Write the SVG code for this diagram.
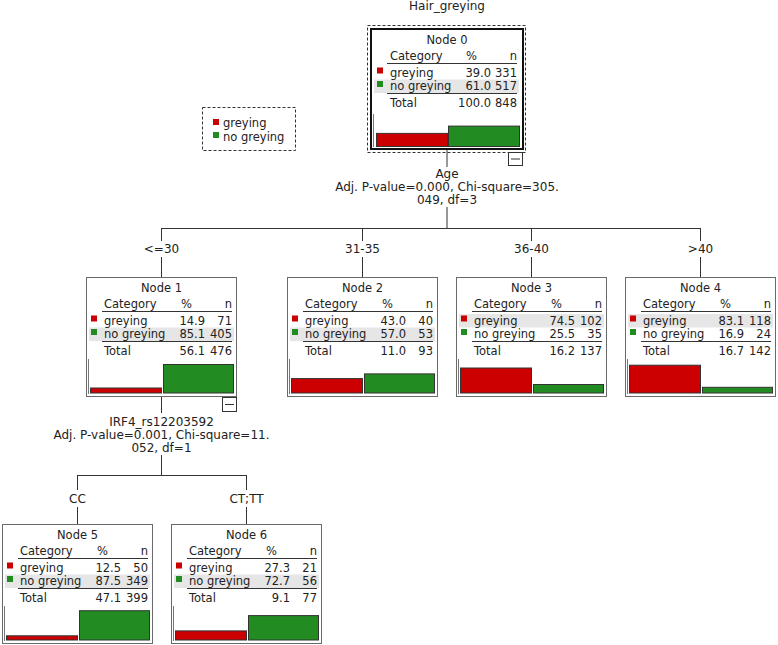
<svg xmlns="http://www.w3.org/2000/svg" width="778" height="645" viewBox="0 0 778 645">
<style>
text{font-family:"DejaVu Sans","Liberation Sans",sans-serif;font-size:11.5px;fill:#222}
.lb{font-size:12px}
.m{text-anchor:middle}
.e{text-anchor:end}
.box{fill:#fff;stroke:#6a6a6a;stroke-width:1}
.box0{fill:#fff;stroke:#111;stroke-width:2}
.dash{fill:none;stroke:#333;stroke-width:1;stroke-dasharray:3,2}
.hl{stroke:#333;stroke-width:1.2}
.band{fill:#e6e6e6}
.ax{stroke:#777;stroke-width:1}
.r{fill:#cc0000}
.g{fill:#228b22}
.bar{stroke:#333;stroke-width:1}
.con{stroke:#333;stroke-width:1;fill:none}
.mb{fill:#fff;stroke:#333;stroke-width:1}
</style>

<text class="m lb" x="447" y="10">Hair_greying</text>

<g id="legend">
<rect class="dash" x="202.5" y="107.5" width="93" height="43"/>
<rect class="r" x="213" y="119" width="6" height="6"/>
<text x="223" y="127">greying</text>
<rect class="g" x="213" y="132" width="6" height="6"/>
<text x="223" y="141">no greying</text>
</g>

<g id="connectors">
<line class="con" x1="447" y1="150" x2="447" y2="167"/>
<line class="con" x1="447" y1="207" x2="447" y2="228.5"/>
<line class="con" x1="161.5" y1="228.5" x2="700.5" y2="228.5"/>
<line class="con" x1="161.5" y1="228" x2="161.5" y2="241"/>
<line class="con" x1="161.5" y1="257" x2="161.5" y2="277"/>
<line class="con" x1="362.5" y1="228" x2="362.5" y2="241"/>
<line class="con" x1="362.5" y1="257" x2="362.5" y2="277"/>
<line class="con" x1="531.5" y1="228" x2="531.5" y2="241"/>
<line class="con" x1="531.5" y1="257" x2="531.5" y2="277"/>
<line class="con" x1="700.5" y1="228" x2="700.5" y2="241"/>
<line class="con" x1="700.5" y1="257" x2="700.5" y2="277"/>
<line class="con" x1="161.5" y1="397" x2="161.5" y2="413"/>
<line class="con" x1="161.5" y1="455" x2="161.5" y2="475.5"/>
<line class="con" x1="77.5" y1="475.5" x2="246.5" y2="475.5"/>
<line class="con" x1="77.5" y1="475" x2="77.5" y2="490"/>
<line class="con" x1="77.5" y1="507" x2="77.5" y2="524"/>
<line class="con" x1="246.5" y1="475" x2="246.5" y2="490"/>
<line class="con" x1="246.5" y1="507" x2="246.5" y2="524"/>
<text class="m lb" x="447" y="178">Age</text>
<text class="m lb" x="447" y="191">Adj. P-value=0.000, Chi-square=305.</text>
<text class="m lb" x="447" y="204">049, df=3</text>
<text class="m lb" x="161.5" y="253">&lt;=30</text>
<text class="m lb" x="362.5" y="253">31-35</text>
<text class="m lb" x="531.5" y="253">36-40</text>
<text class="m lb" x="700.5" y="253">&gt;40</text>
<text class="m lb" x="161.5" y="426">IRF4_rs12203592</text>
<text class="m lb" x="161.5" y="439">Adj. P-value=0.001, Chi-square=11.</text>
<text class="m lb" x="161.5" y="452">052, df=1</text>
<text class="m lb" x="77.5" y="503">CC</text>
<text class="m lb" x="246.5" y="503">CT;TT</text>
</g>

<g id="node0" transform="translate(371,29)">
<rect class="dash" x="-3.5" y="-3.5" width="158" height="127"/>
<rect class="box0" x="0" y="0" width="152" height="120"/>
<text class="m" x="76" y="14.5">Node 0</text>
<text x="19" y="31">Category</text>
<text class="e" x="106" y="31">%</text>
<text class="e" x="146" y="31">n</text>
<line class="hl" x1="16" y1="34.5" x2="146" y2="34.5"/>
<rect class="band" x="3" y="50.5" width="145" height="13.5"/>
<rect class="r" x="6" y="38.5" width="6" height="6"/>
<text x="19" y="47.5">greying</text>
<text class="e" x="120" y="47.5">39.0</text>
<text class="e" x="146" y="47.5">331</text>
<rect class="g" x="6" y="52" width="6" height="6"/>
<text x="19" y="61">no greying</text>
<text class="e" x="120" y="61">61.0</text>
<text class="e" x="146" y="61">517</text>
<line class="hl" x1="16" y1="64.5" x2="146" y2="64.5"/>
<text x="19" y="77.5">Total</text>
<text class="e" x="120" y="77.5">100.0</text>
<text class="e" x="146" y="77.5">848</text>
<line class="ax" x1="2.5" y1="85" x2="2.5" y2="118"/>
<rect class="r bar" x="5.5" y="104.4" width="71" height="13.1"/>
<rect class="g bar" x="77.5" y="97.1" width="71" height="20.4"/>
<rect class="mb" x="137.5" y="123.5" width="14" height="13"/>
<line class="con" x1="140" y1="130" x2="149" y2="130"/>
</g>

<g id="node1" transform="translate(86,277)">
<rect class="box" x="0.5" y="0.5" width="150" height="119"/>
<text class="m" x="75.5" y="14.5">Node 1</text>
<text x="18" y="31">Category</text>
<text class="e" x="106" y="31">%</text>
<text class="e" x="146" y="31">n</text>
<line class="hl" x1="16" y1="34.5" x2="146" y2="34.5"/>
<rect class="band" x="3" y="50.5" width="145" height="13.5"/>
<rect class="r" x="5" y="38.5" width="6" height="6"/>
<text x="18" y="47.5">greying</text>
<text class="e" x="119" y="47.5">14.9</text>
<text class="e" x="146" y="47.5">71</text>
<rect class="g" x="5" y="52" width="6" height="6"/>
<text x="18" y="61">no greying</text>
<text class="e" x="119" y="61">85.1</text>
<text class="e" x="146" y="61">405</text>
<line class="hl" x1="16" y1="64.5" x2="146" y2="64.5"/>
<text x="18" y="77.5">Total</text>
<text class="e" x="119" y="77.5">56.1</text>
<text class="e" x="146" y="77.5">476</text>
<line class="ax" x1="2.5" y1="82" x2="2.5" y2="117"/>
<rect class="r bar" x="4.5" y="111" width="71" height="5"/>
<rect class="g bar" x="77.5" y="87.5" width="70" height="28.5"/>
<rect class="mb" x="136.5" y="120.5" width="14" height="14"/>
<line class="con" x1="139" y1="127.5" x2="148" y2="127.5"/>
</g>

<g id="node2" transform="translate(287,277)">
<rect class="box" x="0.5" y="0.5" width="150" height="119"/>
<text class="m" x="75.5" y="14.5">Node 2</text>
<text x="18" y="31">Category</text>
<text class="e" x="106" y="31">%</text>
<text class="e" x="146" y="31">n</text>
<line class="hl" x1="16" y1="34.5" x2="146" y2="34.5"/>
<rect class="band" x="3" y="50.5" width="145" height="13.5"/>
<rect class="r" x="5" y="38.5" width="6" height="6"/>
<text x="18" y="47.5">greying</text>
<text class="e" x="119" y="47.5">43.0</text>
<text class="e" x="146" y="47.5">40</text>
<rect class="g" x="5" y="52" width="6" height="6"/>
<text x="18" y="61">no greying</text>
<text class="e" x="119" y="61">57.0</text>
<text class="e" x="146" y="61">53</text>
<line class="hl" x1="16" y1="64.5" x2="146" y2="64.5"/>
<text x="18" y="77.5">Total</text>
<text class="e" x="119" y="77.5">11.0</text>
<text class="e" x="146" y="77.5">93</text>
<line class="ax" x1="2.5" y1="82" x2="2.5" y2="117"/>
<rect class="r bar" x="4.5" y="101.6" width="71" height="14.4"/>
<rect class="g bar" x="77.5" y="96.9" width="70" height="19.1"/>
</g>

<g id="node3" transform="translate(456,277)">
<rect class="box" x="0.5" y="0.5" width="150" height="119"/>
<text class="m" x="75.5" y="14.5">Node 3</text>
<text x="18" y="31">Category</text>
<text class="e" x="106" y="31">%</text>
<text class="e" x="146" y="31">n</text>
<line class="hl" x1="16" y1="34.5" x2="146" y2="34.5"/>
<rect class="band" x="3" y="37" width="145" height="13.5"/>
<rect class="r" x="5" y="38.5" width="6" height="6"/>
<text x="18" y="47.5">greying</text>
<text class="e" x="119" y="47.5">74.5</text>
<text class="e" x="146" y="47.5">102</text>
<rect class="g" x="5" y="52" width="6" height="6"/>
<text x="18" y="61">no greying</text>
<text class="e" x="119" y="61">25.5</text>
<text class="e" x="146" y="61">35</text>
<line class="hl" x1="16" y1="64.5" x2="146" y2="64.5"/>
<text x="18" y="77.5">Total</text>
<text class="e" x="119" y="77.5">16.2</text>
<text class="e" x="146" y="77.5">137</text>
<line class="ax" x1="2.5" y1="82" x2="2.5" y2="117"/>
<rect class="r bar" x="4.5" y="91" width="71" height="25"/>
<rect class="g bar" x="77.5" y="107.5" width="70" height="8.5"/>
</g>

<g id="node4" transform="translate(625,277)">
<rect class="box" x="0.5" y="0.5" width="150" height="119"/>
<text class="m" x="75.5" y="14.5">Node 4</text>
<text x="18" y="31">Category</text>
<text class="e" x="106" y="31">%</text>
<text class="e" x="146" y="31">n</text>
<line class="hl" x1="16" y1="34.5" x2="146" y2="34.5"/>
<rect class="band" x="3" y="37" width="145" height="13.5"/>
<rect class="r" x="5" y="38.5" width="6" height="6"/>
<text x="18" y="47.5">greying</text>
<text class="e" x="119" y="47.5">83.1</text>
<text class="e" x="146" y="47.5">118</text>
<rect class="g" x="5" y="52" width="6" height="6"/>
<text x="18" y="61">no greying</text>
<text class="e" x="119" y="61">16.9</text>
<text class="e" x="146" y="61">24</text>
<line class="hl" x1="16" y1="64.5" x2="146" y2="64.5"/>
<text x="18" y="77.5">Total</text>
<text class="e" x="119" y="77.5">16.7</text>
<text class="e" x="146" y="77.5">142</text>
<line class="ax" x1="2.5" y1="82" x2="2.5" y2="117"/>
<rect class="r bar" x="4.5" y="88.2" width="71" height="27.8"/>
<rect class="g bar" x="77.5" y="110.3" width="70" height="5.7"/>
</g>

<g id="node5" transform="translate(2,524)">
<rect class="box" x="0.5" y="0.5" width="150" height="119"/>
<text class="m" x="75.5" y="14.5">Node 5</text>
<text x="18" y="31">Category</text>
<text class="e" x="106" y="31">%</text>
<text class="e" x="146" y="31">n</text>
<line class="hl" x1="16" y1="34.5" x2="146" y2="34.5"/>
<rect class="band" x="3" y="50.5" width="145" height="13.5"/>
<rect class="r" x="5" y="38.5" width="6" height="6"/>
<text x="18" y="47.5">greying</text>
<text class="e" x="119" y="47.5">12.5</text>
<text class="e" x="146" y="47.5">50</text>
<rect class="g" x="5" y="52" width="6" height="6"/>
<text x="18" y="61">no greying</text>
<text class="e" x="119" y="61">87.5</text>
<text class="e" x="146" y="61">349</text>
<line class="hl" x1="16" y1="64.5" x2="146" y2="64.5"/>
<text x="18" y="77.5">Total</text>
<text class="e" x="119" y="77.5">47.1</text>
<text class="e" x="146" y="77.5">399</text>
<line class="ax" x1="2.5" y1="82" x2="2.5" y2="117"/>
<rect class="r bar" x="4.5" y="111.8" width="71" height="4.2"/>
<rect class="g bar" x="77.5" y="86.7" width="70" height="29.3"/>
</g>

<g id="node6" transform="translate(171,524)">
<rect class="box" x="0.5" y="0.5" width="150" height="119"/>
<text class="m" x="75.5" y="14.5">Node 6</text>
<text x="18" y="31">Category</text>
<text class="e" x="106" y="31">%</text>
<text class="e" x="146" y="31">n</text>
<line class="hl" x1="16" y1="34.5" x2="146" y2="34.5"/>
<rect class="band" x="3" y="50.5" width="145" height="13.5"/>
<rect class="r" x="5" y="38.5" width="6" height="6"/>
<text x="18" y="47.5">greying</text>
<text class="e" x="119" y="47.5">27.3</text>
<text class="e" x="146" y="47.5">21</text>
<rect class="g" x="5" y="52" width="6" height="6"/>
<text x="18" y="61">no greying</text>
<text class="e" x="119" y="61">72.7</text>
<text class="e" x="146" y="61">56</text>
<line class="hl" x1="16" y1="64.5" x2="146" y2="64.5"/>
<text x="18" y="77.5">Total</text>
<text class="e" x="119" y="77.5">9.1</text>
<text class="e" x="146" y="77.5">77</text>
<line class="ax" x1="2.5" y1="82" x2="2.5" y2="117"/>
<rect class="r bar" x="4.5" y="106.9" width="71" height="9.1"/>
<rect class="g bar" x="77.5" y="91.6" width="70" height="24.4"/>
</g>
</svg>
